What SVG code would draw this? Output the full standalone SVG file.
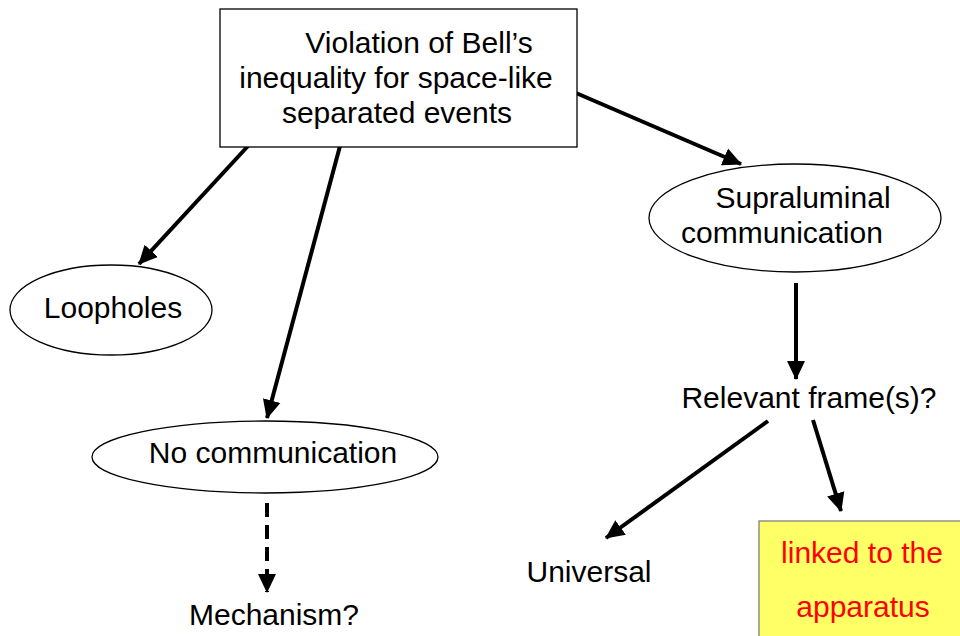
<svg xmlns="http://www.w3.org/2000/svg" width="960" height="636" viewBox="0 0 960 636">
<defs>
<style>
.t{font-family:"Liberation Sans",Arial,sans-serif;font-size:30px;fill:#000}
.r{fill:#ff0000}
.n{fill:#fff;stroke:#000;stroke-width:1.3}
.c{stroke:#000;stroke-width:4;fill:none}
</style>
<marker id="ah" markerUnits="userSpaceOnUse" markerWidth="20" markerHeight="20" viewBox="0 0 20 20" refX="18" refY="10" orient="auto">
<path d="M0,1 L19,10 L0,19 Z" fill="#000"/>
</marker>
</defs>
<rect width="960" height="636" fill="#fff"/>
<g id="connectors">
<line class="c" x1="248" y1="146" x2="139" y2="264" marker-end="url(#ah)"/>
<line class="c" x1="340" y1="146" x2="267" y2="418" marker-end="url(#ah)"/>
<line class="c" x1="576" y1="93" x2="741" y2="164" marker-end="url(#ah)"/>
<line class="c" x1="796" y1="283" x2="796" y2="379" marker-end="url(#ah)"/>
<line class="c" x1="768" y1="421" x2="606" y2="538" marker-end="url(#ah)"/>
<line class="c" x1="813" y1="420" x2="841" y2="511" marker-end="url(#ah)"/>
<line class="c" x1="267" y1="503" x2="267" y2="592" stroke-dasharray="14,8" marker-end="url(#ah)"/>
</g>
<g id="bell">
<rect class="n" x="220" y="9" width="357" height="138"/>
<text class="t" x="419" y="53" text-anchor="middle">Violation of Bell’s</text>
<text class="t" x="396" y="88" text-anchor="middle">inequality for space-like</text>
<text class="t" x="397" y="123" text-anchor="middle">separated events</text>
</g>
<g id="loopholes">
<ellipse class="n" cx="111" cy="310" rx="101" ry="45"/>
<text class="t" x="113" y="318" text-anchor="middle">Loopholes</text>
</g>
<g id="nocomm">
<ellipse class="n" cx="265" cy="457" rx="173" ry="36"/>
<text class="t" x="273" y="463" text-anchor="middle">No communication</text>
</g>
<g id="mechanism">
<text class="t" x="274" y="625" text-anchor="middle">Mechanism?</text>
</g>
<g id="supra">
<ellipse class="n" cx="795" cy="218" rx="146" ry="54"/>
<text class="t" x="803" y="208" text-anchor="middle">Supraluminal</text>
<text class="t" x="782" y="243" text-anchor="middle">communication</text>
</g>
<g id="frames">
<text class="t" x="809" y="408" text-anchor="middle">Relevant frame(s)?</text>
</g>
<g id="universal">
<text class="t" x="589" y="582" text-anchor="middle">Universal</text>
</g>
<g id="apparatus">
<rect x="759" y="521" width="210" height="130" fill="#ffff66" stroke="#808080" stroke-width="1.3"/>
<text class="t r" x="862" y="563" text-anchor="middle">linked to the</text>
<text class="t r" x="863" y="617" text-anchor="middle">apparatus</text>
</g>
</svg>
